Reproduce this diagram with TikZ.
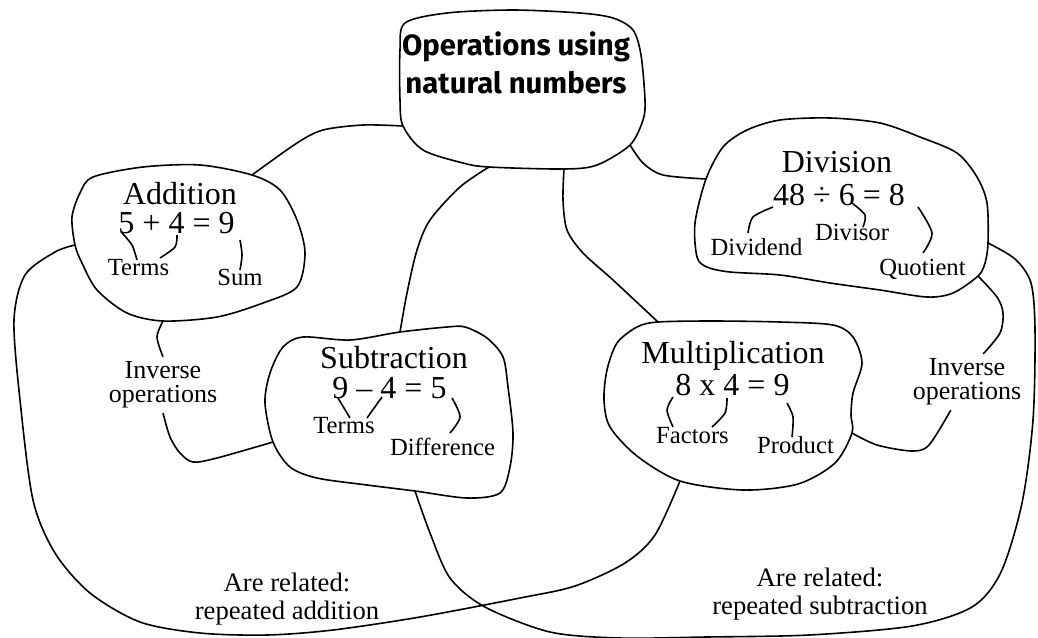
\documentclass[tikz,border=0pt]{standalone}
\usepackage{fontspec}
\setmainfont{Liberation Serif}
\newfontfamily\titlefont{Fira Sans}
\tikzset{every picture/.style={line width=1.2pt}}
\tikzset{
  blob/.style={draw, line join=round},
  ttltext/.style={align=center, inner sep=0.75pt, font=\titlefont\bfseries\fontsize{22}{28.5}\selectfont},
  head/.style={anchor=base, inner sep=0.75pt, font=\fontsize{24}{28}\selectfont},
  lbl/.style={anchor=base, inner sep=0.75pt, font=\fontsize{18.5}{22}\selectfont},
  inv/.style={align=center, inner sep=3pt, font=\fontsize{19.5}{18}\selectfont},
  rel/.style={align=center, inner sep=0.75pt, font=\fontsize{20}{20.5}\selectfont},
}

\begin{document}
\begin{tikzpicture}[x=0.75pt,y=0.75pt,yscale=-1,xscale=1]
\useasboundingbox (0,0) rectangle (1038,637);

%Points on the outlines
\coordinate (ttl-w) at (403,126);
\coordinate (ttl-s1) at (489,167);
\coordinate (ttl-s2) at (564,169);
\coordinate (ttl-e) at (630,145);
\coordinate (add-n) at (252,175);
\coordinate (add-s) at (163,321);
\coordinate (add-w) at (75,245);
\coordinate (sub-n) at (400,332);
\coordinate (sub-w) at (273,442);
\coordinate (sub-s) at (415,491);
\coordinate (mul-n) at (658,322);
\coordinate (mul-e) at (852,433);
\coordinate (mul-s) at (680,481);
\coordinate (div-w) at (706,179);
\coordinate (div-e) at (988,243);
\coordinate (div-s) at (978,276);

%Shape: Blob [title]
\draw[blob] plot[smooth cycle] coordinates {(405,23) (447,13) (513,10) (580,13) (613,18) (633,30) (641,55) (645,100) (643,120) (ttl-e) (597,165) (ttl-s2) (ttl-s1) (463,163) (423,150) (ttl-w) (400,100) (400,50)};
%Shape: Blob [addition]
\draw[blob] plot[smooth cycle] coordinates {(80,193) (93,177) (143,167) (200,165) (add-n) (280,190) (297,220) (305,253) (297,287) (263,303) (217,317) (add-s) (127,313) (97,290) (82,263) (add-w) (72,217)};
%Shape: Blob [subtraction]
\draw[blob] plot[smooth cycle] coordinates {(283,347) (303,337) (350,340) (sub-n) (447,327) (465,327) (487,338) (503,357) (508,387) (513,433) (510,467) (500,493) (467,498) (sub-s) (367,485) (317,478) (290,467) (sub-w) (265,403) (270,373)};
%Shape: Blob [multiplication]
\draw[blob] plot[smooth cycle] coordinates {(637,327) (mul-n) (713,321) (780,322) (833,325) (853,337) (862,363) (853,393) (851,415) (mul-e) (835,463) (798,484) (743,490) (mul-s) (637,456) (610,427) (604,400) (607,370) (617,343)};
%Shape: Blob [division]
\draw[blob] plot[smooth cycle] coordinates {(div-w) (723,147) (747,130) (780,120) (830,118) (880,123) (920,137) (957,153) (977,177) (987,203) (div-e) (985,263) (div-s) (953,293) (927,297) (880,290) (830,283) (780,275) (730,272) (707,267) (697,257) (695,223)};

% Text Node
\node[ttltext] (ttl) at (516,63) {Operations using\\natural numbers};
% Text Node
\node[head] (t-add) at (180,204) {Addition};
\node[head] (e-add) at (176.5,233) {5 + 4 = 9};
\node[lbl] (terms-a) at (138.5,275) {Terms};
\node[lbl] (sum) at (240,285) {Sum};
% Text Node
\node[head] (t-sub) at (394,368) {Subtraction};
\node[head] (e-sub) at (389.5,398) {9 – 4 = 5};
\node[lbl] (terms-b) at (344,433) {Terms};
\node[lbl] (diff) at (442.5,455) {Difference};
% Text Node
\node[head] (t-mul) at (733,363) {Multiplication};
\node[head] (e-mul) at (732.5,395) {8 x 4 = 9};
\node[lbl] (factors) at (692.5,443) {Factors};
\node[lbl] (product) at (795.5,453) {Product};
% Text Node
\node[head] (t-div) at (837,172) {Division};
\node[head] (e-div) at (839,205) {48 ÷ 6 = 8};
\node[lbl] (dividend) at (756.5,255) {Dividend};
\node[lbl] (divisor) at (852,240) {Divisor};
\node[lbl] (quotient) at (922.5,275) {Quotient};
% Text Node
\node[inv] (inv-a) at (163,385) {Inverse\\operations};
\node[inv] (inv-b) at (967,382) {Inverse\\operations};
\node[rel] (rel-a) at (287,599) {Are related:\\repeated addition};
\node[rel] (rel-b) at (820,594) {Are related:\\repeated subtraction};

%Curve Lines
\draw plot[smooth] coordinates {(ttl-w) (363,125) (323,130) (297,143) (add-n)};
\draw plot[smooth] coordinates {(ttl-s1) (460,187) (430,220) (417,250) (407,293) (sub-n)};
\draw plot[smooth] coordinates {(ttl-s2) (563,200) (567,230) (583,253) (613,280) (mul-n)};
\draw plot[smooth] coordinates {(ttl-e) (643,163) (663,175) (div-w)};
%Curve Lines
\draw plot[smooth] coordinates {(add-s) (157,337) (inv-a.north)};
\draw plot[smooth] coordinates {(inv-a.south) (170,437) (180,453) (193,462) (217,458) (sub-w)};
\draw plot[smooth] coordinates {(div-s) (997,297) (1003,313) (1000,333) (inv-b.60)};
\draw plot[smooth] coordinates {(inv-b.-120) (929,445) (912,451) (877,445) (mul-e)};
%Curve Lines
\draw plot[smooth] coordinates {(add-w) (55,252) (25,275) (14,320) (20,400) (33,500) (55,553) (90,593) (140,622) (200,633) (267,635) (333,630) (420,617) (520,598) (575,586) (625,563) (655,535) (mul-s)};
\draw plot[smooth] coordinates {(sub-s) (430,533) (450,578) (485,607) (550,632) (620,638) (706,637) (809,635) (912,626) (972,607) (1001,572) (1022,503) (1033,420) (1035,330) (1031,283) (1015,259) (div-e)};

%Brackets
\draw plot[smooth] coordinates {(122,233) (132,245) (137,260)};
\draw plot[smooth] coordinates {(177,235) (175,247) (160,258)};
\draw plot[smooth] coordinates {(240,240) (242,255) (240,270)};
\draw (338,398) -- (350,418);
\draw (382,397) -- (367,418);
\draw plot[smooth] coordinates {(452,398) (460,417) (450,433)};
\draw plot[smooth] coordinates {(673,397) (667,410) (673,427)};
\draw plot[smooth] coordinates {(727,398) (725,413) (712,427)};
\draw plot[smooth] coordinates {(787,403) (793,417) (792,437)};
\draw plot[smooth] coordinates {(773,207) (753,217) (748,233)};
\draw plot[smooth] coordinates {(852,203) (865,215) (863,227)};
\draw plot[smooth] coordinates {(918,207) (932,233) (923,253)};

\end{tikzpicture}
\end{document}
